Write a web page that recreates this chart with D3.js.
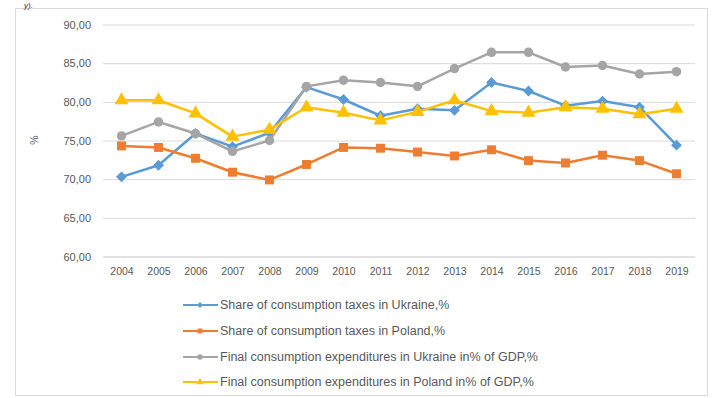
<!DOCTYPE html>
<html><head><meta charset="utf-8">
<script src="https://cdn.jsdelivr.net/npm/d3@7/dist/d3.min.js"></script>
<style>body{margin:0;background:#fff}svg{display:block}text{font-family:"Liberation Sans",Arial,sans-serif}</style>
</head><body><svg id="c" width="713" height="398"></svg>
<script>
const years = ["2004","2005","2006","2007","2008","2009","2010","2011","2012","2013","2014","2015","2016","2017","2018","2019"];
const taxUkraine = [70.3,71.8,75.9,74.2,76.0,81.9,80.3,78.2,79.1,78.9,82.5,81.4,79.5,80.1,79.3,74.4];
const taxPoland = [74.3,74.1,72.7,70.9,69.9,71.9,74.1,74.0,73.5,73.0,73.8,72.4,72.1,73.1,72.4,70.7];
const fceUkraine = [75.6,77.4,75.9,73.6,75.0,82.0,82.8,82.5,82.0,84.3,86.4,86.4,84.5,84.7,83.6,83.9];
const fcePoland = [80.2,80.2,78.5,75.5,76.4,79.3,78.6,77.6,78.7,80.2,78.8,78.6,79.3,79.1,78.4,79.1];
const yTicks = [60,65,70,75,80,85,90];
const seriesNames = ["Share of consumption taxes in Ukraine,%","Share of consumption taxes in Poland,%","Final  consumption expenditures in Ukraine in% of GDP,%","Final  consumption expenditures in Poland in% of GDP,%"];
const seriesColors = ["#5B9BD5","#ED7D31","#A5A5A5","#FFC000"];
const seriesShapes = [d3.symbolDiamond2 || d3.symbolDiamond, d3.symbolSquare, d3.symbolCircle, d3.symbolTriangle];
const seriesData = [taxUkraine, taxPoland, fceUkraine, fcePoland];

const svg = d3.select("#c");
svg.append("rect").attr("x",15.5).attr("y",8.5).attr("width",692).attr("height",387)
  .attr("fill","#fff").attr("stroke","#D9D9D9");
svg.append("text").attr("x",24).attr("y",7.5).attr("font-family","Liberation Serif").attr("font-style","italic")
  .attr("font-size",8).attr("fill","#222").text("у).");

const x = d3.scalePoint().domain(years).range([103,695]).padding(0.5);
const y = d3.scaleLinear().domain([60,90]).range([256.5,24.5]);

const yAxis = svg.append("g").attr("transform","translate(103,0)")
  .call(d3.axisLeft(y).tickValues(yTicks).tickSize(-592).tickFormat(d=>d3.format(".2f")(d).replace(".",",")));
yAxis.select(".domain").remove();
yAxis.selectAll("line").attr("stroke","#D9D9D9");
yAxis.selectAll("text").attr("x",-12).attr("fill","#595959").attr("font-size",11);

const xAxis = svg.append("g").attr("transform","translate(0,256.5)")
  .call(d3.axisBottom(x).tickSize(0));
xAxis.select(".domain").attr("stroke","#D9D9D9");
xAxis.selectAll("text").attr("dy","1.45em").attr("fill","#595959").attr("font-size",10.5);

svg.append("text").attr("transform","translate(38,140) rotate(-90)").attr("text-anchor","middle")
  .attr("fill","#595959").attr("font-size",10.5).text("%");

const line = d3.line().x((d,i)=>x(years[i])).y(d=>y(d));
const sizes = [75,80,70,85];
seriesData.forEach((data,k)=>{
  const g = svg.append("g");
  g.append("path").datum(data).attr("d",line).attr("fill","none")
    .attr("stroke",seriesColors[k]).attr("stroke-width",2.5).attr("stroke-linejoin","round");
  g.selectAll("path.m").data(data).enter().append("path").attr("class","m")
    .attr("transform",(d,i)=>`translate(${x(years[i])},${y(d)})`)
    .attr("d",d3.symbol().type(seriesShapes[k]).size(sizes[k])).attr("fill",seriesColors[k]);
});

const legY = [305,331,357,382];
seriesNames.forEach((name,k)=>{
  const g = svg.append("g").attr("transform",`translate(0,${legY[k]})`);
  g.append("line").attr("x1",183).attr("x2",218).attr("stroke",seriesColors[k]).attr("stroke-width",2);
  g.append("path").attr("transform","translate(200,0)").attr("d",d3.symbol().type(seriesShapes[k]).size(24)).attr("fill",seriesColors[k]);
  g.append("text").attr("x",220).attr("dy","0.35em").attr("fill","#595959").attr("font-size",12.5).text(name);
});
</script></body></html>
